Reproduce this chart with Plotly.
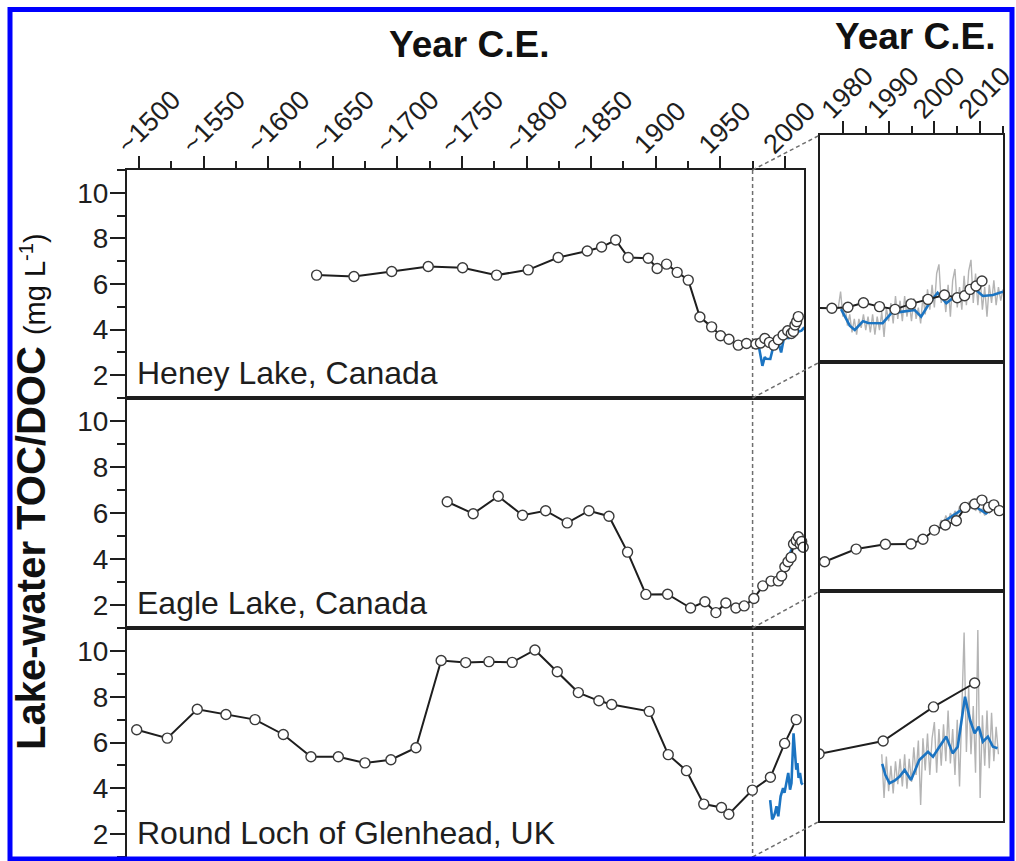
import plotly.graph_objects as go

W, H = 1016, 861
FONT = "Liberation Sans, Arial, Helvetica, sans-serif"
INK = "#1e1e1e"
BLUE = "#1b74c2"
GREY = "#b4b4b4"

# ---- sediment-inferred TOC/DOC (open circles) ----
heney_year = [1637.5, 1666.4, 1695.6, 1723.9, 1750.5, 1776.8, 1801.3, 1824.5, 1847.0, 1858.1,
              1869.0, 1878.7, 1894.2, 1901.1, 1908.4, 1916.6, 1925.2, 1934.2, 1943.3, 1950.2,
              1956.7, 1963.9, 1970.3, 1977.6, 1981.1, 1984.5, 1988.0, 1991.4, 1994.9, 1998.6,
              2002.2, 2005.0, 2006.6, 2007.8, 2009.1, 2010.4]
heney_toc = [6.39, 6.33, 6.55, 6.77, 6.71, 6.39, 6.62, 7.16, 7.45, 7.62,
             7.93, 7.16, 7.13, 6.68, 6.87, 6.51, 6.17, 4.55, 4.12, 3.73,
             3.58, 3.32, 3.39, 3.37, 3.41, 3.61, 3.44, 3.32, 3.56, 3.76,
             3.95, 3.83, 3.92, 4.20, 4.35, 4.57]

eagle_year = [1738.6, 1758.7, 1778.1, 1796.9, 1814.8, 1831.5, 1848.3, 1863.8, 1878.2, 1892.4,
              1909.2, 1927.0, 1938.1, 1946.6, 1954.3, 1962.1, 1968.5, 1976.0, 1982.9, 1989.3,
              1994.9, 1997.5, 2000.0, 2002.4, 2004.8, 2006.7, 2008.8, 2010.4, 2011.8, 2013.0,
              2014.2]
eagle_toc = [6.49, 5.97, 6.73, 5.90, 6.10, 5.57, 6.10, 5.86, 4.30, 2.46,
             2.47, 1.87, 2.14, 1.67, 2.09, 1.87, 1.96, 2.28, 2.83, 3.04,
             3.05, 3.26, 3.66, 3.88, 4.07, 4.65, 4.80, 4.97, 4.65, 4.76,
             4.51]

loch_year = [1498.2, 1521.9, 1545.1, 1567.3, 1589.8, 1611.7, 1633.1, 1654.3, 1674.9, 1695.0,
             1714.4, 1733.9, 1752.9, 1770.9, 1788.9, 1806.5, 1823.8, 1840.1, 1856.0, 1865.9,
             1895.0, 1909.7, 1923.8, 1937.2, 1950.9, 1956.6, 1974.8, 1988.8, 1999.8, 2008.8]
loch_toc = [6.56, 6.19, 7.45, 7.22, 7.00, 6.35, 5.38, 5.38, 5.11, 5.25,
            5.77, 9.58, 9.49, 9.53, 9.50, 10.04, 9.09, 8.18, 7.82, 7.66,
            7.36, 5.47, 4.77, 3.31, 3.16, 2.87, 3.92, 4.48, 5.96, 7.00]

# ---- monitored lake-water DOC, smoothed (blue) ----
heney_mon_year = [1979.6, 1980.5, 1981.5, 1982.6, 1983.5, 1984.4, 1985.5, 1987.0, 1988.7, 1989.5,
                  1990.6, 1993.1, 1995.7, 1997.1, 1998.9, 2000.7, 2002.6, 2004.0, 2006.2, 2008.4,
                  2010.6, 2012.8, 2015.0]
heney_mon = [3.33, 3.00, 2.60, 2.41, 2.60, 2.80, 2.72, 2.72, 2.71, 2.90,
             3.15, 3.22, 3.29, 3.00, 3.59, 4.05, 3.59, 3.81, 3.88, 4.29,
             3.91, 3.95, 4.10]

eagle_mon_year = [2001.5, 2003.0, 2004.5, 2006.0, 2007.5, 2008.8, 2010.0, 2011.3, 2012.4]
eagle_mon = [3.96, 4.15, 4.35, 4.55, 4.68, 4.71, 4.55, 4.39, 4.57]

loch_mon_year = [1988.6, 1989.3, 1990.2, 1991.3, 1992.4, 1993.5, 1994.9, 1996.7, 1998.6, 1999.7,
                 2001.1, 2002.6, 2004.0, 2005.1, 2006.7, 2007.8, 2008.8, 2009.7, 2010.6, 2011.7,
                 2012.8, 2013.8]
loch_mon = [3.48, 3.00, 2.64, 2.75, 2.93, 3.22, 2.78, 3.65, 4.01, 3.80,
            4.23, 4.67, 3.94, 4.23, 6.40, 5.39, 4.81, 5.10, 4.45, 4.67,
            4.23, 4.16]

# ---- monitored lake-water DOC, individual samples (grey) ----
heney_raw_year = [1979.0, 1979.5, 1980.0, 1980.5, 1981.0, 1981.5, 1982.0, 1982.5, 1983.0, 1983.5,
                  1984.0, 1984.5, 1985.0, 1985.5, 1986.0, 1986.5, 1987.0, 1987.5, 1988.0, 1988.5,
                  1989.0, 1989.5, 1990.0, 1990.5, 1991.0, 1991.5, 1992.0, 1992.5, 1993.0, 1993.5,
                  1994.0, 1994.5, 1995.0, 1995.5, 1996.0, 1996.5, 1997.0, 1997.5, 1998.0, 1998.5,
                  1999.0, 1999.5, 2000.0, 2000.5, 2001.0, 2001.5, 2002.0, 2002.5, 2003.0, 2003.5,
                  2004.0, 2004.5, 2005.0, 2005.5, 2006.0, 2006.5, 2007.0, 2007.5, 2008.0, 2008.5,
                  2009.0, 2009.5, 2010.0, 2010.5, 2011.0, 2011.5, 2012.0, 2012.5, 2013.0, 2013.5,
                  2014.0, 2014.5, 2015.0]
heney_raw = [3.4, 4.1, 3.0, 3.5, 2.6, 3.1, 2.3, 2.9, 2.2, 2.9,
             2.5, 3.1, 2.4, 3.0, 2.3, 3.1, 2.2, 3.0, 2.4, 3.2,
             2.1, 3.4, 2.8, 3.6, 2.7, 3.9, 2.9, 3.7, 2.8, 3.9,
             3.0, 3.6, 2.8, 3.8, 2.9, 3.4, 2.7, 3.9, 3.1, 4.2,
             3.3, 4.4, 3.4, 4.9, 5.3, 3.6, 4.2, 3.2, 4.4, 3.0,
             4.6, 5.1, 3.4, 4.3, 3.3, 4.8, 3.5, 5.0, 5.5, 3.6,
             4.9, 3.5, 4.7, 3.3, 4.3, 3.0, 4.4, 3.6, 4.6, 3.5,
             4.3, 3.7, 4.2]

eagle_raw_year = [2001.0, 2001.5, 2002.0, 2002.5, 2003.0, 2003.5, 2004.0, 2004.5, 2005.0, 2005.5,
                  2006.0, 2006.5, 2007.0, 2007.5, 2008.0, 2008.5, 2009.0, 2009.5, 2010.0, 2010.5,
                  2011.0, 2011.5, 2012.0, 2012.5]
eagle_raw = [3.8, 4.1, 3.9, 4.3, 4.0, 4.4, 4.2, 4.5, 4.3, 4.7,
             4.4, 4.8, 4.5, 4.9, 4.6, 4.9, 4.5, 4.7, 4.4, 4.6,
             4.3, 4.5, 4.4, 4.6]

loch_raw_year = [1988.5, 1989.0, 1989.5, 1990.0, 1990.5, 1991.0, 1991.5, 1992.0, 1992.5, 1993.0,
                 1993.5, 1994.0, 1994.5, 1995.0, 1995.5, 1996.0, 1996.5, 1997.0, 1997.5, 1998.0,
                 1998.5, 1999.0, 1999.5, 2000.0, 2000.5, 2001.0, 2001.5, 2002.0, 2002.5, 2003.0,
                 2003.5, 2004.0, 2004.5, 2005.0, 2005.5, 2006.0, 2006.5, 2007.0, 2007.5, 2008.0,
                 2008.5, 2009.0, 2009.5, 2010.0, 2010.5, 2011.0, 2011.5, 2012.0, 2012.5, 2013.0,
                 2013.5, 2014.0]
loch_raw = [3.9, 2.0, 3.8, 2.3, 3.4, 2.2, 3.6, 2.6, 3.7, 2.5,
            3.9, 2.4, 3.7, 2.7, 4.2, 3.0, 4.5, 1.7, 4.6, 3.2,
            4.8, 3.0, 4.6, 5.3, 3.1, 5.0, 3.4, 5.2, 3.6, 5.8,
            3.5, 5.0, 3.0, 5.4, 2.5, 6.3, 9.2, 4.0, 6.8, 3.9,
            6.0, 3.1, 9.3, 2.0, 5.6, 3.4, 5.8, 3.3, 5.7, 3.6,
            5.1, 3.9]

lake_names = ["Heney Lake, Canada", "Eagle Lake, Canada", "Round Loch of Glenhead, UK"]
long_ticks = [1500, 1550, 1600, 1650, 1700, 1750, 1800, 1850, 1900, 1950, 2000]
long_tick_text = ["~1500", "~1550", "~1600", "~1650", "~1700", "~1750", "~1800", "~1850",
                  "1900", "1950", "2000"]
long_minor = [1525, 1575, 1625, 1675, 1725, 1775, 1825, 1875, 1925, 1975]
recent_ticks = [1980, 1990, 2000, 2010]
recent_tick_text = ["1980", "1990", "2000", "2010"]
recent_minor = [1985, 1995, 2005, 2015]
y_ticks = [2, 4, 6, 8, 10]
y_minor = [1, 3, 5, 7, 9, 11]

series = [
    (heney_year, heney_toc, heney_mon_year, heney_mon, heney_raw_year, heney_raw),
    (eagle_year, eagle_toc, eagle_mon_year, eagle_mon, eagle_raw_year, eagle_raw),
    (loch_year, loch_toc, loch_mon_year, loch_mon, loch_raw_year, loch_raw),
]

# ---- layout geometry (pixels) ----
MAIN_X = (127, 804)
INSET_X = (820, 1003)
MAIN_ROWS = [(170, 398), (398, 628), (628, 857)]
INSET_ROWS = [(135, 362), (362, 591), (591, 821)]
LONG_RANGE = [1490.7, 2014.8]
RECENT_RANGE = [1975, 2015]
Y_RANGE = [1, 11]
SPLIT_YEAR = 1975


def fx(p):
    return p / W


def fy(p):
    return 1 - p / H


fig = go.Figure()

for i, (yr, toc, myr, mon, ryr, raw) in enumerate(series):
    for j, inset in ((i + 1, False), (i + 4, True)):
        xa, ya = f"x{j}", f"y{j}"
        if inset:
            # individual samples are shown only in the expanded recent panels
            fig.add_trace(go.Scatter(x=ryr, y=raw, xaxis=xa, yaxis=ya, mode="lines",
                                     line=dict(color=GREY, width=1.4), hoverinfo="skip"))
        fig.add_trace(go.Scatter(x=myr, y=mon, xaxis=xa, yaxis=ya, mode="lines",
                                 line=dict(color=BLUE, width=2.6), hoverinfo="skip"))
        fig.add_trace(go.Scatter(x=yr, y=toc, xaxis=xa, yaxis=ya, mode="lines+markers",
                                 cliponaxis=inset,
                                 line=dict(color=INK, width=2),
                                 marker=dict(size=10, color="white",
                                             line=dict(color="#3a3a3a", width=1.4))))

axis_line = dict(showline=True, linecolor=INK, linewidth=2, mirror=True,
                 showgrid=False, zeroline=False, automargin=False)
layout = dict(width=W, height=H, autosize=False, margin=dict(l=0, r=0, t=0, b=0, pad=0),
              paper_bgcolor="white", plot_bgcolor="white", showlegend=False,
              font=dict(family=FONT, color=INK))

top_ticks = dict(side="top", tickmode="array", ticks="outside", ticklen=12, tickwidth=2,
                 tickcolor=INK, tickangle=-45, ticklabeloverflow="allow",
                 ticklabelshift=-20, ticklabelstandoff=-14,
                 tickfont=dict(size=27, family=FONT, color=INK))

for i in range(3):
    top, bot = MAIN_ROWS[i]
    itop, ibot = INSET_ROWS[i]
    k_main, k_inset = i + 1, i + 4
    main_x = dict(axis_line, domain=[fx(MAIN_X[0]), fx(MAIN_X[1])], range=LONG_RANGE,
                  anchor=f"y{k_main}")
    inset_x = dict(axis_line, domain=[fx(INSET_X[0]), fx(INSET_X[1])], range=RECENT_RANGE,
                   anchor=f"y{k_inset}")
    if i == 0:
        main_x.update(top_ticks, tickvals=long_ticks, ticktext=long_tick_text,
                      minor=dict(tickvals=long_minor, ticks="outside", ticklen=7,
                                 tickwidth=2, tickcolor=INK))
        inset_x.update(top_ticks, tickvals=recent_ticks, ticktext=recent_tick_text,
                       minor=dict(tickvals=recent_minor, ticks="outside", ticklen=7,
                                  tickwidth=2, tickcolor=INK))
    else:
        main_x.update(showticklabels=False, ticks="")
        inset_x.update(showticklabels=False, ticks="")
    main_y = dict(axis_line, domain=[fy(bot), fy(top)], range=Y_RANGE, anchor=f"x{k_main}",
                  tickmode="array", tickvals=y_ticks, ticks="outside", ticklen=15, tickwidth=2,
                  tickcolor=INK, ticklabelstandoff=-4,
                  tickfont=dict(size=28, family=FONT, color=INK),
                  minor=dict(tickvals=y_minor, ticks="outside", ticklen=8, tickwidth=2,
                             tickcolor=INK))
    inset_y = dict(axis_line, domain=[fy(ibot), fy(itop)], range=Y_RANGE, anchor=f"x{k_inset}",
                   showticklabels=False, ticks="")
    sfx = "" if k_main == 1 else str(k_main)
    layout[f"xaxis{sfx}"] = main_x
    layout[f"yaxis{sfx}"] = main_y
    layout[f"xaxis{k_inset}"] = inset_x
    layout[f"yaxis{k_inset}"] = inset_y

fig.update_layout(**layout)

# position of the split year on the long axis, in paper units
split_px = MAIN_X[0] + (SPLIT_YEAR - LONG_RANGE[0]) / (LONG_RANGE[1] - LONG_RANGE[0]) * (MAIN_X[1] - MAIN_X[0])

dash = dict(color="#6e6e6e", width=1.5, dash="4px,3px")
shapes = [dict(type="line", xref="paper", yref="paper", x0=fx(split_px), x1=fx(split_px),
               y0=fy(MAIN_ROWS[0][0]), y1=fy(MAIN_ROWS[2][1]), line=dash, layer="below")]
main_edges = [MAIN_ROWS[0][0], MAIN_ROWS[0][1], MAIN_ROWS[1][1], MAIN_ROWS[2][1]]
inset_edges = [INSET_ROWS[0][0], INSET_ROWS[0][1], INSET_ROWS[1][1], INSET_ROWS[2][1]]
for me, ie in zip(main_edges, inset_edges):
    shapes.append(dict(type="line", xref="paper", yref="paper", x0=fx(split_px), y0=fy(me),
                       x1=fx(INSET_X[0]), y1=fy(ie), line=dash))
# page frame
shapes.append(dict(type="rect", xref="paper", yref="paper", x0=fx(10), x1=fx(1012),
                   y0=fy(859), y1=fy(9.5), line=dict(color="#0000ff", width=5)))
fig.update_layout(shapes=shapes)

annotations = [
    dict(text="<b>Year C.E.</b>", x=fx(469), y=fy(44), xref="paper", yref="paper",
         showarrow=False, font=dict(size=37, family=FONT, color="#111"),
         xanchor="center", yanchor="middle"),
    dict(text="<b>Year C.E.</b>", x=fx(915), y=fy(37), xref="paper", yref="paper",
         showarrow=False, font=dict(size=37, family=FONT, color="#111"),
         xanchor="center", yanchor="middle"),
    dict(text="<b>Lake-water TOC/DOC</b> <span style='font-size:29px'>(mg L<sup>-1</sup>)</span>",
         x=fx(31), y=fy(492), xref="paper", yref="paper", textangle=-90, showarrow=False,
         font=dict(size=40, family=FONT, color="#111"), xanchor="center", yanchor="middle"),
]
label_centres = [373, 603, 833]
for name, yc in zip(lake_names, label_centres):
    annotations.append(dict(text=name, x=fx(135), y=fy(yc), xref="paper", yref="paper",
                            showarrow=False, xanchor="left", yanchor="middle",
                            font=dict(size=32, family=FONT, color=INK)))
fig.update_layout(annotations=annotations)

fig.write_html("out.html")
